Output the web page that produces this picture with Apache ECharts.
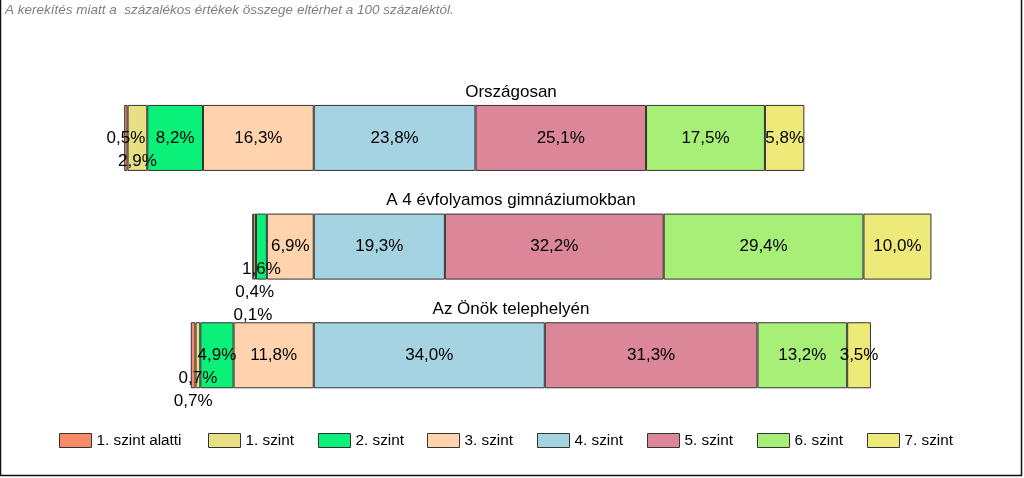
<!DOCTYPE html>
<html>
<head>
<meta charset="utf-8">
<script src="https://cdn.jsdelivr.net/npm/echarts@6/dist/echarts.min.js"></script>
<style>
html,body{margin:0;padding:0;background:#fff;}
#chart{width:1024px;height:478px;}
</style>
</head>
<body>
<div id="chart"></div>
<script>
// ---- data ----
const categories = ['Országosan', 'A 4 évfolyamos gimnáziumokban', 'Az Önök telephelyén'];
const levelNames = ['1. szint alatti', '1. szint', '2. szint', '3. szint', '4. szint', '5. szint', '6. szint', '7. szint'];
const belowLevel1 = [0.5, 0.1, 0.7];
const level1 = [2.9, 0.4, 0.7];
const level2 = [8.2, 1.6, 4.9];
const level3 = [16.3, 6.9, 11.8];
const level4 = [23.8, 19.3, 34.0];
const level5 = [25.1, 32.2, 31.3];
const level6 = [17.5, 29.4, 13.2];
const level7 = [5.8, 10.0, 3.5];
const noteText = 'A kerekítés miatt a  százalékos értékek összege eltérhet a 100 százaléktól.';

// ---- style ----
const FONT = "'Liberation Sans', Arial, sans-serif";
const colors = ['#F88B67', '#E8DF84', '#0AF078', '#FED3AD', '#A6D3E2', '#DB8699', '#A8EF78', '#EEEA7A'];
// vertical label shifts (category index - level index) to mimic the displaced labels
const labelDy = { '0-1': 23, '1-0': 69, '1-1': 46, '1-2': 23, '2-0': 46, '2-1': 23 };
const legendLeft = [59, 208, 318, 427, 537, 647, 757, 867];

const levelValues = [belowLevel1, level1, level2, level3, level4, level5, level6, level7];

function fmt(v) { return Math.abs(v).toFixed(1).replace('.', ',') + '%'; }

// left side (levels 0..3) stacked as negatives from the 3/4 boundary outward
const order = [3, 2, 1, 0, 4, 5, 6, 7];
const series = order.map(li => {
  const sign = li <= 3 ? -1 : 1;
  return {
    name: levelNames[li],
    type: 'bar',
    stack: 'total',
    barWidth: 66,
    itemStyle: { color: colors[li], borderColor: '#333', borderWidth: 1 },
    label: {
      show: true, position: 'inside', color: '#000',
      fontFamily: FONT, fontSize: 17,
      formatter: p => fmt(p.value)
    },
    emphasis: { disabled: true },
    data: levelValues[li].map((v, ci) => {
      const dy = labelDy[ci + '-' + li];
      const item = { value: sign * v };
      if (dy) item.label = { offset: [0, dy] };
      return item;
    })
  };
});

const legends = levelNames.map((n, i) => ({
  data: [{ name: n, icon: 'rect' }], left: legendLeft[i], top: 433, padding: 0,
  itemWidth: 32, itemHeight: 14, itemGap: 0,
  itemStyle: { borderColor: '#333', borderWidth: 1 },
  textStyle: { fontFamily: FONT, fontSize: 15.3, color: '#000' },
  selectedMode: false
}));

const chart = echarts.init(document.getElementById('chart'), null, { renderer: 'canvas' });
chart.setOption({
  animation: false,
  backgroundColor: '#fff',
  title: {
    text: noteText, left: 5, top: 3, padding: 0,
    textStyle: { fontFamily: FONT, fontSize: 13.5, fontStyle: 'italic', fontWeight: 'normal', color: '#7f7f7f' }
  },
  legend: legends,
  grid: { left: 123.5, width: 815.4, top: 83.6, height: 326 },
  xAxis: { type: 'value', min: -28, max: 92, show: false },
  yAxis: { type: 'category', data: categories, inverse: true, show: false },
  series: series
});

const texts = categories.map(c => {
  const y = chart.convertToPixel({ yAxisIndex: 0 }, c);
  return {
    type: 'text', x: 511, y: y - 46,
    style: { text: c, font: '17px ' + FONT, fill: '#000', align: 'center', verticalAlign: 'middle' }
  };
});
texts.push({
  type: 'rect', shape: { x: 0.5, y: -5, width: 1021, height: 480.5 },
  style: { fill: null, stroke: '#111', lineWidth: 1.5 }, silent: true, z: 100
});
chart.setOption({ graphic: texts });
</script>
</body>
</html>
